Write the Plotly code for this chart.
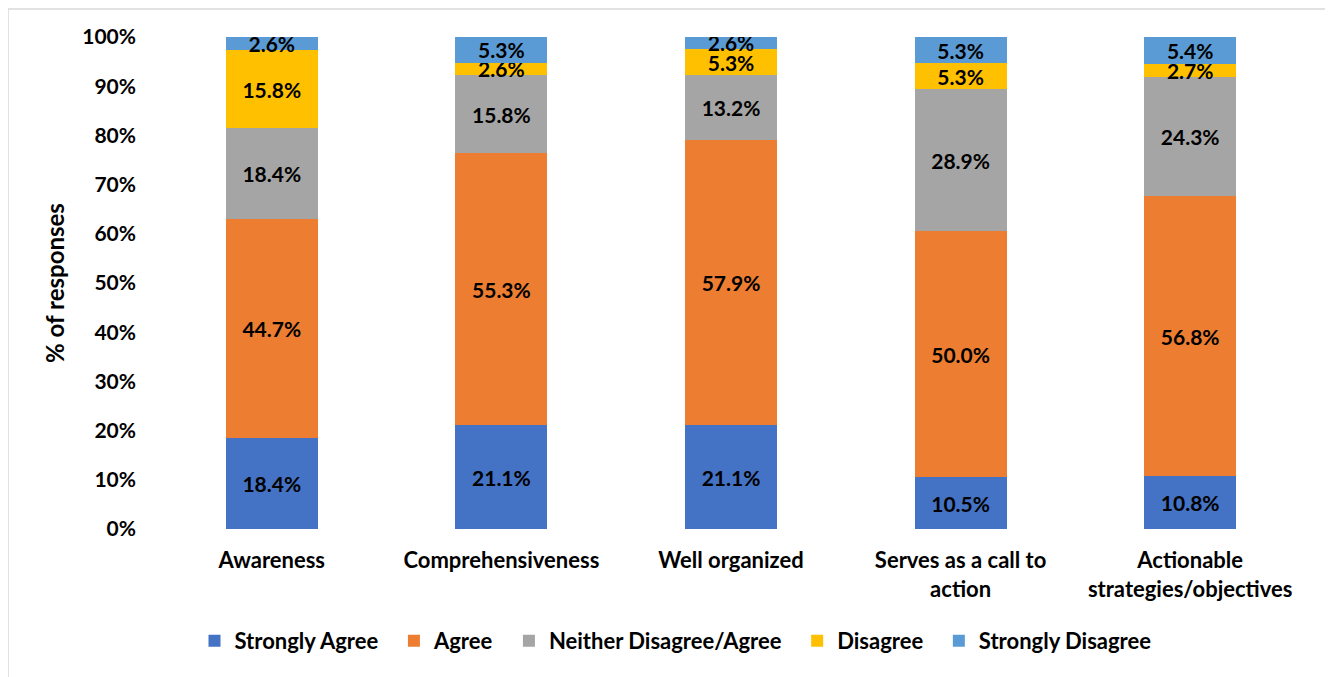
import plotly.graph_objects as go

categories = ["Awareness", "Comprehensiveness", "Well organized",
              "Serves as a call to<br>action", "Actionable<br>strategies/objectives"]
strongly_agree = [18.4, 21.1, 21.1, 10.5, 10.8]
agree = [44.7, 55.3, 57.9, 50.0, 56.8]
neither = [18.4, 15.8, 13.2, 28.9, 24.3]
disagree = [15.8, 2.6, 5.3, 5.3, 2.7]
strongly_disagree = [2.6, 5.3, 2.6, 5.3, 5.4]
y_ticks = [0, 10, 20, 30, 40, 50, 60, 70, 80, 90, 100]

series = [
    ("Strongly Agree", strongly_agree, "#4472C4"),
    ("Agree", agree, "#ED7D31"),
    ("Neither Disagree/Agree", neither, "#A5A5A5"),
    ("Disagree", disagree, "#FFC000"),
    ("Strongly Disagree", strongly_disagree, "#5B9BD5"),
]

FONT = "Lato"
PAD = "\u00a0\u00a0"
fig = go.Figure()
for i, (name, vals, color) in enumerate(series):
    fig.add_trace(go.Bar(
        x=categories, y=vals,
        name=name + (PAD if i < len(series) - 1 else ""),
        marker=dict(color=color, line=dict(width=0)),
        text=[f"{v:.1f}%" for v in vals],
        textposition="inside", insidetextanchor="middle",
        textangle=0, constraintext="none",
        textfont=dict(family=FONT, size=21, color="black", weight="bold"),
    ))

W, H = 1325, 669
L, R, T, B = 149, 28, 29, 148
PW = W - L - R
PH = H - T - B
fig.update_layout(
    barmode="stack", bargap=0.6,
    width=W, height=H,
    margin=dict(l=L, r=R, t=T, b=B, autoexpand=False),
    paper_bgcolor="white", plot_bgcolor="white",
    font=dict(family=FONT, size=18, color="black", weight="bold"),
    yaxis=dict(range=[0, 100], tickvals=y_ticks,
               ticktext=[f"{t}%" for t in y_ticks],
               showgrid=False, zeroline=False, showline=False,
               ticks="", ticklabelstandoff=20, automargin=False,
               tickfont=dict(family=FONT, size=21, weight="bold"),
               title=dict(text="% of responses", standoff=10,
                          font=dict(family=FONT, size=24, weight="bold"))),
    xaxis=dict(showgrid=False, showline=False, ticks="", automargin=False,
               ticklabelstandoff=16,
               tickfont=dict(family=FONT, size=22, weight="bold")),
    legend=dict(orientation="h", x=(667.5 - L) / PW, xanchor="center",
                y=-0.185, yanchor="top",
                traceorder="normal",
                font=dict(family=FONT, size=22, weight="bold"),
                itemwidth=30, tracegroupgap=0),
    showlegend=True,
)
fig.add_shape(type="rect", xref="paper", yref="paper",
              x0=-L / PW, x1=(1323 - L) / PW, y0=-(B + 20) / PH, y1=1 + (T - 1) / PH,
              line=dict(color="#D9D9D9", width=1.5), layer="below")
fig.write_html("out.html")
